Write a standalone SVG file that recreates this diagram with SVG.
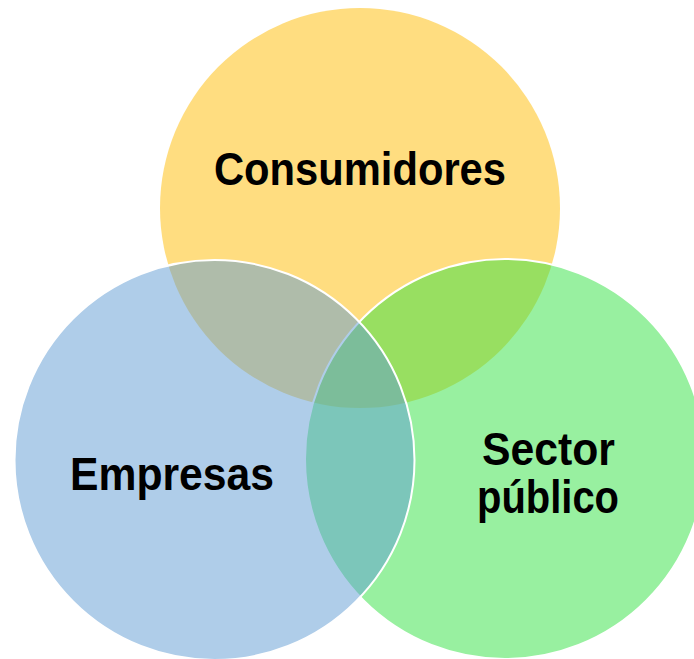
<svg xmlns="http://www.w3.org/2000/svg" width="694" height="659" viewBox="0 0 694 659">
  <style>
    .c { stroke: #ffffff; stroke-width: 2; fill-opacity: 0.5; }
    .t { font-family: "Liberation Sans", Arial, sans-serif; font-weight: bold; font-size: 47px; fill: #000000; }
  </style>
  <rect width="694" height="659" fill="#ffffff"/>
  <g id="consumidores">
    <circle cx="360" cy="208" r="200" fill="#FFBB01" fill-opacity="0.5" stroke="none"/>
  </g>
  <g id="sector-publico">
    <circle class="c" cx="505" cy="459" r="200" fill="#31E141"/>
  </g>
  <g id="empresas">
    <circle class="c" cx="214.5" cy="460" r="200" fill="#5F9BD3"/>
  </g>
  <g id="labels">
    <text class="t" x="360" y="185" text-anchor="middle" textLength="292" lengthAdjust="spacingAndGlyphs">Consumidores</text>
    <text class="t" x="172" y="490" text-anchor="middle" textLength="204" lengthAdjust="spacingAndGlyphs">Empresas</text>
    <text class="t" x="548.5" y="465" text-anchor="middle" textLength="133" lengthAdjust="spacingAndGlyphs">Sector</text>
    <text class="t" x="548" y="513" text-anchor="middle" textLength="142" lengthAdjust="spacingAndGlyphs">público</text>
  </g>
</svg>
